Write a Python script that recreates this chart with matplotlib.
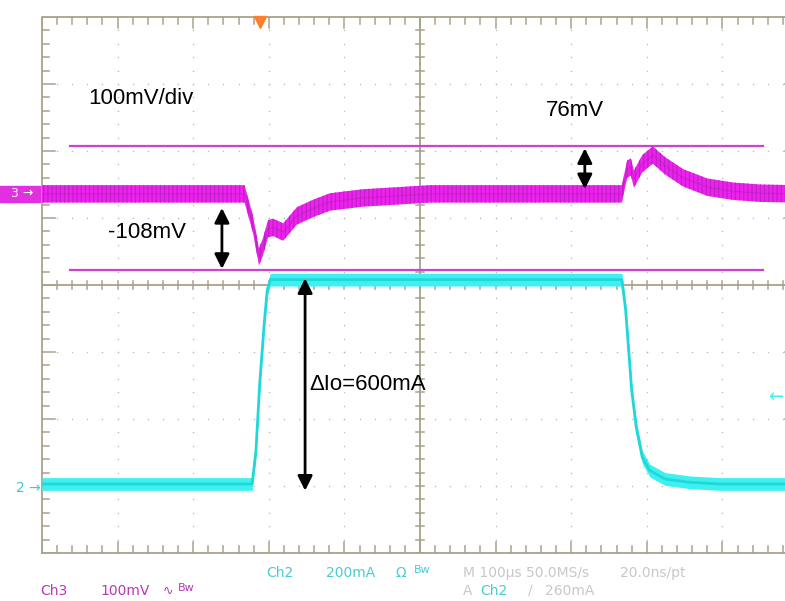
import matplotlib
matplotlib.use("Agg")
import matplotlib.pyplot as plt
import matplotlib.transforms as mtransforms
import numpy as np

# ---------------- data ----------------
# time in microseconds (100 us/div, 10 divisions)
ch3_time = [0, 268, 279, 287, 292, 299, 306, 319, 337, 358, 381, 425, 470, 513,
            767, 774, 779, 783, 794, 808, 824, 848, 880, 914, 950, 1000]
# Ch3 output voltage deviation in mV (100 mV/div)
ch3_mv = [0, 0, -45, -94, -80, -52, -50, -57, -33, -22, -12, -6, -3, 0,
          0, 37, 40, 22, 45, 58, 42, 24, 10, 4, 1, 0]
ch3_ripple_mv = 13           # half width of the ripple band
ch3_offset_div = 1.36        # channel 3 ground marker position
ch3_cursors_mv = [71, -114]  # horizontal cursor lines
cursor_span_us = [37, 954]

# Ch2 load current in mA (200 mA/div)
ch2_time = [0, 278, 283, 288, 294, 298, 302, 767, 772, 776, 780, 786, 794, 804,
            824, 857, 897, 1000]
ch2_ma = [0, 0, 100, 300, 480, 580, 610, 610, 520, 400, 280, 170, 80, 40,
          15, 5, 0, 0]
ch2_band_ma = 19
ch2_offset_div = -2.97
ch2_trigger_ma = 260
trigger_time_us = 288

MAG = "#ee22ee"
MAG_LINE = "#cc44cc"
CYAN = "#3ff0f0"
GRIDC = "#a8a28c"
DOTC = "#bcbcbc"

plt.rcParams["hatch.linewidth"] = 0.9

fig = plt.figure(figsize=(7.85, 6.01), dpi=100)
ax = fig.add_axes([42 / 785, 48 / 601, 756 / 785, 536 / 601])
ax.set_xlim(0, 1000)
ax.set_ylim(-4, 4)
ax.set_axis_off()

# ---------------- graticule ----------------
for xm in np.arange(0, 1001, 100):
    ys = np.arange(-4, 4.01, 0.2)
    ax.scatter(np.full_like(ys, xm), ys, s=1.2, color=DOTC, lw=0, zorder=1)
for ym in np.arange(-4, 4.01, 1):
    xs = np.arange(0, 1001, 20)
    ax.scatter(xs, np.full_like(xs, ym, dtype=float), s=1.2, color=DOTC, lw=0, zorder=1)

ax.plot([0, 1000, 1000, 0, 0], [-4, -4, 4, 4, -4], color=GRIDC, lw=1.3, zorder=2, clip_on=False)
ax.axvline(500, color=GRIDC, lw=1.3, zorder=2)
ax.axhline(0, color=GRIDC, lw=1.3, zorder=2)
tx = 5.5
ty = 0.065
for xm in np.arange(0, 1001, 20):
    big = (xm % 100 == 0)
    ax.plot([xm, xm], [-ty, ty], color=GRIDC, lw=1.1, zorder=2)
    L = 0.17 if big else 0.11
    ax.plot([xm, xm], [4, 4 - L], color=GRIDC, lw=1.1, zorder=2)
    ax.plot([xm, xm], [-4, -4 + L], color=GRIDC, lw=1.1, zorder=2)
for ym in np.arange(-4, 4.01, 0.2):
    big = abs(ym - round(ym)) < 1e-6
    ax.plot([500 - tx, 500 + tx], [ym, ym], color=GRIDC, lw=1.1, zorder=2)
    L = 17 if big else 9
    ax.plot([0, L], [ym, ym], color=GRIDC, lw=1.1, zorder=2)
    ax.plot([1000, 1000 - L], [ym, ym], color=GRIDC, lw=1.1, zorder=2)

# ---------------- cursors ----------------
for c in ch3_cursors_mv:
    yv = ch3_offset_div + c / 100
    ax.plot(cursor_span_us, [yv, yv], color=MAG_LINE, lw=1.6, zorder=3)

# ---------------- traces ----------------
t3 = np.array(ch3_time, float)
v3 = ch3_offset_div + np.array(ch3_mv, float) / 100
ax.fill_between(t3, v3 - ch3_ripple_mv / 100, v3 + ch3_ripple_mv / 100,
                facecolor=MAG, edgecolor="#c020c8", hatch="||||", lw=0, zorder=4)
ax.plot(t3, v3, color="#b020b0", lw=0.8, alpha=0.5, zorder=5)

t2 = np.array(ch2_time, float)
v2 = ch2_offset_div + np.array(ch2_ma, float) / 200
ax.fill_between(t2, v2 - ch2_band_ma / 200, v2 + ch2_band_ma / 200,
                color=CYAN, lw=0, zorder=4)
ax.plot(t2, v2, color="#20d8d8", lw=2.0, zorder=5)

# trigger position marker
ax.plot([trigger_time_us], [3.93], marker="v", markersize=9, color="#ff7f2a",
        clip_on=False, zorder=6)
# trigger level marker
ax.text(970, ch2_offset_div + ch2_trigger_ma / 200, "\u2190", color=CYAN,
        fontsize=13, ha="center", va="center", zorder=6)

# channel ground markers
tr = mtransforms.blended_transform_factory(fig.transFigure, ax.transData)
fig.patches.append(plt.Rectangle((0, ch3_offset_div - 0.12), 40 / 785, 0.24,
                                 transform=tr, color="#e030e0", zorder=5))
fig.text(22 / 785, ch3_offset_div, "3 \u2192", transform=tr, color="white",
         fontsize=9, ha="center", va="center", zorder=6)
fig.text(28 / 785, ch2_offset_div - 0.06, "2 \u2192", transform=tr, color="#40c8d0",
         fontsize=10, ha="center", va="center", zorder=6)

# ---------------- annotations ----------------
AF = dict(family="Liberation Sans", fontsize=16, color="black")
ax.text(61, 2.78, "100mV/div", ha="left", va="center", **AF)
ax.text(666, 2.61, "76mV", ha="left", va="center", **AF)
ax.text(87, 0.79, "-108mV", ha="left", va="center", **AF)
ax.text(354, -1.49, "\u0394Io=600mA", ha="left", va="center", **AF)

arrow = dict(arrowstyle="<|-|>", color="black", lw=2, mutation_scale=22,
             shrinkA=0, shrinkB=0)
ax.annotate("", xy=(718, 2.04), xytext=(718, 1.43), arrowprops=arrow, zorder=7)
ax.annotate("", xy=(238, 1.15), xytext=(238, 0.24), arrowprops=arrow, zorder=7)
ax.annotate("", xy=(348, 0.1), xytext=(348, -3.07), arrowprops=arrow, zorder=7)

# ---------------- scope status text ----------------
SF = ["Liberation Sans Narrow", "DejaVu Sans"]
txtc_m = "#b838b8"
txtc_c = "#48ccd4"
txtc_g = "#c8c8c8"
y1 = 1 - 577 / 601
y2 = 1 - 595 / 601
fig.text(266 / 785, y1, "Ch2", color=txtc_c, fontsize=10, family=SF)
fig.text(326 / 785, y1, "200mA", color=txtc_c, fontsize=10, family=SF)
fig.text(396 / 785, y1, "\u03a9", color=txtc_c, fontsize=10, family=SF)
fig.text(414 / 785, y1 + 0.006, "Bw", color=txtc_c, fontsize=8, family=SF)
fig.text(463 / 785, y1, "M 100\u00b5s 50.0MS/s", color=txtc_g, fontsize=10, family=SF)
fig.text(620 / 785, y1, "20.0ns/pt", color=txtc_g, fontsize=10, family=SF)

fig.text(40 / 785, y2, "Ch3", color=txtc_m, fontsize=10, family=SF)
fig.text(100 / 785, y2, "100mV", color=txtc_m, fontsize=10, family=SF)
fig.text(163 / 785, y2, "\u223f", color=txtc_m, fontsize=9, family=SF)
fig.text(178 / 785, y2 + 0.006, "Bw", color=txtc_m, fontsize=8, family=SF)
fig.text(463 / 785, y2, "A", color=txtc_g, fontsize=10, family=SF)
fig.text(480 / 785, y2, "Ch2", color=txtc_c, fontsize=10, family=SF)
fig.text(528 / 785, y2, "\u2215", color=txtc_g, fontsize=10, family=SF)
fig.text(545 / 785, y2, "260mA", color=txtc_g, fontsize=10, family=SF)

fig.savefig("out.png", dpi=100)
